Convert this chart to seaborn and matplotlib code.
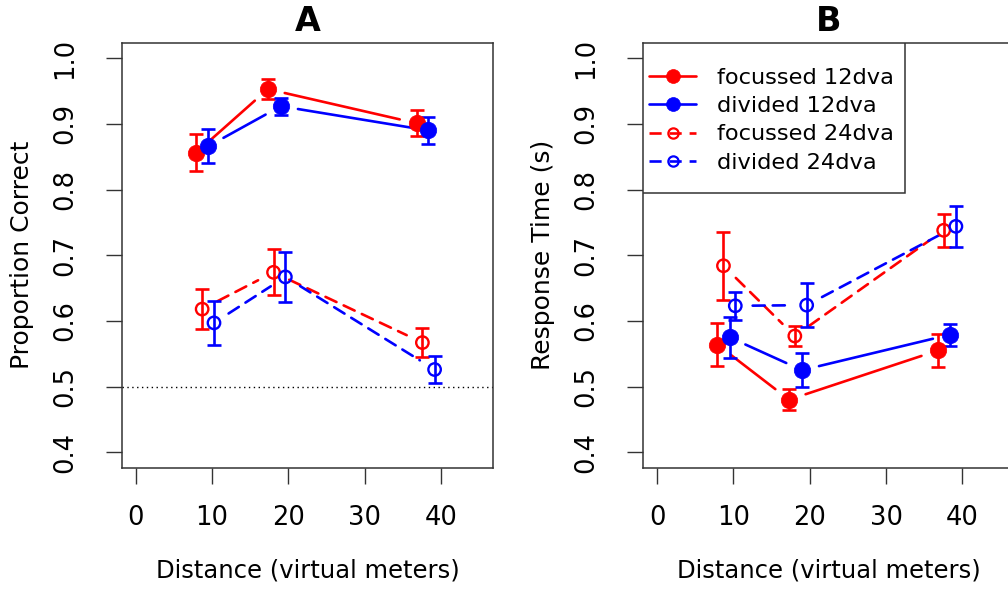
import numpy as np
import pandas as pd
import matplotlib
matplotlib.use("Agg")
import matplotlib.pyplot as plt
from matplotlib.patches import FancyArrowPatch, Rectangle
from matplotlib.lines import Line2D
import seaborn as sns

# ---- data -------------------------------------------------------------
series_names = ["focussed 12dva", "divided 12dva", "focussed 24dva", "divided 24dva"]
series_colors = ["#ff0000", "#0000ff", "#ff0000", "#0000ff"]
series_filled = [True, True, False, False]
series_dashed = [False, False, True, True]

# distance (virtual meters), slightly dodged per condition
dist_foc12 = [7.9, 17.3, 36.8]
dist_div12 = [9.5, 19.0, 38.35]
dist_foc24 = [8.7, 18.05, 37.55]
dist_div24 = [10.25, 19.6, 39.15]

# proportion correct (panel A)
pc_foc12 = [0.856, 0.953, 0.901]
pc_div12 = [0.866, 0.927, 0.890]
pc_foc24 = [0.618, 0.674, 0.567]
pc_div24 = [0.597, 0.667, 0.526]
pc_err_foc12 = [0.028, 0.015, 0.020]
pc_err_div12 = [0.026, 0.013, 0.021]
pc_err_foc24 = [0.030, 0.035, 0.022]
pc_err_div24 = [0.033, 0.038, 0.021]

# response time in seconds (panel B)
rt_foc12 = [0.564, 0.480, 0.555]
rt_div12 = [0.575, 0.525, 0.579]
rt_foc24 = [0.684, 0.577, 0.738]
rt_div24 = [0.623, 0.624, 0.744]
rt_err_foc12 = [0.033, 0.016, 0.025]
rt_err_div12 = [0.031, 0.026, 0.017]
rt_err_foc24 = [0.052, 0.015, 0.025]
rt_err_div24 = [0.021, 0.033, 0.031]

chance_level = 0.5
x_ticks = [0, 10, 20, 30, 40]
y_ticks = [0.4, 0.5, 0.6, 0.7, 0.8, 0.9, 1.0]
panel_titles = ["A", "B"]
y_labels = ["Proportion Correct", "Response Time (s)"]
x_label = "Distance (virtual meters)"

dists = [dist_foc12, dist_div12, dist_foc24, dist_div24]
panel_values = [
    ([pc_foc12, pc_div12, pc_foc24, pc_div24],
     [pc_err_foc12, pc_err_div12, pc_err_foc24, pc_err_div24]),
    ([rt_foc12, rt_div12, rt_foc24, rt_div24],
     [rt_err_foc12, rt_err_div12, rt_err_foc24, rt_err_div24]),
]

# ---- style ------------------------------------------------------------
sns.set_style("white")
plt.rcParams["font.family"] = ["DejaVu Sans"]
for key in ["text.color", "axes.labelcolor", "xtick.color", "ytick.color"]:
    plt.rcParams[key] = "black"

LW = 1.9
DASH = (0, (4.6, 3.0))
GAP_PT = 12.5
EDGE = "#333333"

fig = plt.figure(figsize=(10.08, 5.89), dpi=100)
W, H = 1008, 589
ax_w, ax_h = 371 / W, 425.5 / H
ax_bottom = 121 / H
axes = [fig.add_axes([122 / W, ax_bottom, ax_w, ax_h]),
        fig.add_axes([643.3 / W, ax_bottom, ax_w, ax_h])]

xmin, xmax = 0, 45
ymin, ymax = 0.4, 1.0
xpad, ypad = 0.04 * (xmax - xmin), 0.04 * (ymax - ymin)

for p, ax in enumerate(axes):
    means, errs = panel_values[p]
    ax.set_xlim(xmin - xpad, xmax + xpad)
    ax.set_ylim(ymin - ypad, ymax + ypad)

    if p == 0:
        ax.axhline(chance_level, color="black", lw=1.0, ls=(0, (1, 2.5)), zorder=1)

    for i in range(4):
        df = pd.DataFrame({"x": dists[i], "y": means[i], "e": errs[i]})
        col = series_colors[i]
        ls = DASH if series_dashed[i] else "solid"
        # connecting segments with gaps around the points
        for k in range(len(df) - 1):
            seg = FancyArrowPatch((df.x[k], df.y[k]), (df.x[k + 1], df.y[k + 1]),
                                  arrowstyle="-", shrinkA=GAP_PT, shrinkB=GAP_PT,
                                  color=col, lw=LW, linestyle=ls, zorder=2)
            ax.add_patch(seg)
        ax.errorbar(df.x, df.y, yerr=df.e, fmt="none", ecolor=col,
                    elinewidth=LW, capsize=5.0, capthick=LW, zorder=3)
        if series_filled[i]:
            sns.scatterplot(data=df, x="x", y="y", ax=ax, color=col,
                            edgecolor=col, s=140, linewidth=0.5, zorder=4)
        else:
            sns.scatterplot(data=df, x="x", y="y", ax=ax, facecolor="none",
                            edgecolor=col, s=80, linewidth=1.7, zorder=4)

    ax.set_xticks(x_ticks)
    ax.set_xticklabels([str(t) for t in x_ticks])
    ax.set_yticks(y_ticks)
    ax.set_yticklabels([f"{t:.1f}" for t in y_ticks])
    ax.tick_params(axis="both", which="major", direction="out", length=11.5,
                   width=1.0, color=EDGE, labelsize=18.5, bottom=True, left=True)
    ax.tick_params(axis="x", pad=15)
    ax.tick_params(axis="y", pad=20)
    for lab in ax.get_yticklabels():
        lab.set_rotation(90)
        lab.set_va("center")
    ax.set_xlabel(x_label, fontsize=17.5, labelpad=20)
    ax.set_ylabel(y_labels[p], fontsize=18, labelpad=13)
    ax.set_title(panel_titles[p], fontsize=24, fontweight="bold", pad=8)
    for s in ax.spines.values():
        s.set_visible(True)
        s.set_color(EDGE)
        s.set_linewidth(1.1)

# legend in panel B, with a plain rectangular frame
axB = axes[1]
handles = []
for i in range(4):
    handles.append(Line2D([], [], color=series_colors[i], lw=LW,
                          linestyle=DASH if series_dashed[i] else "solid",
                          marker="o", markersize=10 if series_filled[i] else 7.4,
                          markerfacecolor=series_colors[i] if series_filled[i] else "none",
                          markeredgecolor=series_colors[i],
                          markeredgewidth=0.5 if series_filled[i] else 1.6))
leg = axB.legend(handles, series_names, loc="center left",
                 bbox_to_anchor=(0.0154, 0.817), frameon=False, fontsize=16.2,
                 handlelength=2.1, handletextpad=0.9, labelspacing=0.36,
                 borderpad=0, borderaxespad=0)
leg.set_zorder(6)
frame = Rectangle((0, 0.647), 0.705, 1 - 0.647, transform=axB.transAxes,
                  facecolor="white", edgecolor=EDGE, lw=1.1, zorder=5)
axB.add_patch(frame)

fig.savefig("out.png", dpi=100)
